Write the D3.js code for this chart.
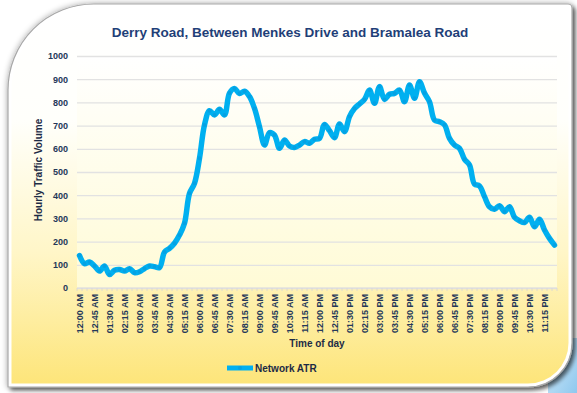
<!DOCTYPE html>
<html>
<head>
<meta charset="utf-8">
<script src="https://cdn.jsdelivr.net/npm/d3@7/dist/d3.min.js"></script>
<style>
  html, body { margin: 0; padding: 0; background: #ffffff; }
  svg { display: block; }
  text { font-family: "Liberation Sans", Arial, sans-serif; font-weight: bold; }
</style>
</head>
<body>
<svg id="chart" width="577" height="393"></svg>
<script>
// 15-minute count intervals
const times = [
  "12:00 AM","12:15 AM","12:30 AM","12:45 AM","01:00 AM","01:15 AM","01:30 AM","01:45 AM",
  "02:00 AM","02:15 AM","02:30 AM","02:45 AM","03:00 AM","03:15 AM","03:30 AM","03:45 AM",
  "04:00 AM","04:15 AM","04:30 AM","04:45 AM","05:00 AM","05:15 AM","05:30 AM","05:45 AM",
  "06:00 AM","06:15 AM","06:30 AM","06:45 AM","07:00 AM","07:15 AM","07:30 AM","07:45 AM",
  "08:00 AM","08:15 AM","08:30 AM","08:45 AM","09:00 AM","09:15 AM","09:30 AM","09:45 AM",
  "10:00 AM","10:15 AM","10:30 AM","10:45 AM","11:00 AM","11:15 AM","11:30 AM","11:45 AM",
  "12:00 PM","12:15 PM","12:30 PM","12:45 PM","01:00 PM","01:15 PM","01:30 PM","01:45 PM",
  "02:00 PM","02:15 PM","02:30 PM","02:45 PM","03:00 PM","03:15 PM","03:30 PM","03:45 PM",
  "04:00 PM","04:15 PM","04:30 PM","04:45 PM","05:00 PM","05:15 PM","05:30 PM","05:45 PM",
  "06:00 PM","06:15 PM","06:30 PM","06:45 PM","07:00 PM","07:15 PM","07:30 PM","07:45 PM",
  "08:00 PM","08:15 PM","08:30 PM","08:45 PM","09:00 PM","09:15 PM","09:30 PM","09:45 PM",
  "10:00 PM","10:15 PM","10:30 PM","10:45 PM","11:00 PM","11:15 PM","11:30 PM","11:45 PM"
];

// Network ATR, hourly traffic volume for each interval
const networkATR = [
  140, 105, 112, 95, 73, 95, 58, 77,
  80, 73, 83, 66, 70, 84, 95, 92,
  88, 155, 171, 193, 228, 279, 408, 451,
  559, 703, 764, 746, 770, 746, 840, 860,
  838, 848, 825, 774, 695, 616, 670, 659,
  602, 638, 612, 606, 616, 631, 624, 641,
  645, 705, 678, 648, 707, 674, 739, 774,
  793, 813, 853, 796, 868, 813, 835, 839,
  853, 803, 875, 818, 889, 840, 803, 724,
  717, 703, 645, 616, 602, 555, 530, 448,
  440, 394, 350, 339, 355, 329, 350, 305,
  290, 282, 305, 264, 296, 250, 214, 185
];

// Every third interval is labelled on the time axis
const timeTicks = times.filter((d, i) => i % 3 === 0);
const volumeTicks = [0, 100, 200, 300, 400, 500, 600, 700, 800, 900, 1000];

const seriesName = "Network ATR";
const titleText = "Derry Road, Between Menkes Drive and Bramalea Road";
const xTitle = "Time of day";
const yTitle = "Hourly Traffic Volume";

const svg = d3.select("#chart");
const plot = { left: 77, right: 557, top: 56, bottom: 288 };

const defs = svg.append("defs");

const cardGrad = defs.append("linearGradient")
  .attr("id", "cardGrad").attr("x1", 0).attr("y1", 0).attr("x2", 0).attr("y2", 1);
cardGrad.append("stop").attr("offset", "0%").attr("stop-color", "#ffffff");
cardGrad.append("stop").attr("offset", "30%").attr("stop-color", "#fffffb");
cardGrad.append("stop").attr("offset", "65%").attr("stop-color", "#fff6c8");
cardGrad.append("stop").attr("offset", "100%").attr("stop-color", "#fde57a");

const plotGrad = defs.append("linearGradient")
  .attr("id", "plotGrad").attr("x1", 0).attr("y1", 0).attr("x2", 0).attr("y2", 1);
plotGrad.append("stop").attr("offset", "0%").attr("stop-color", "#ffffff");
plotGrad.append("stop").attr("offset", "100%").attr("stop-color", "#fffbd6");

const blueGrad = defs.append("linearGradient")
  .attr("id", "blueGrad").attr("x1", 0).attr("y1", 0).attr("x2", 1).attr("y2", 1);
blueGrad.append("stop").attr("offset", "0%").attr("stop-color", "#d6ecfa");
blueGrad.append("stop").attr("offset", "100%").attr("stop-color", "#8fc8ee");

// soft halo all round plus an offset drop shadow
const shadow = defs.append("filter").attr("id", "shadow")
  .attr("x", "-5%").attr("y", "-5%").attr("width", "110%").attr("height", "110%");
shadow.append("feGaussianBlur").attr("in", "SourceAlpha").attr("stdDeviation", 3).attr("result", "halo");
shadow.append("feComponentTransfer").attr("in", "halo").attr("result", "haloSoft")
  .append("feFuncA").attr("type", "linear").attr("slope", 0.35);
shadow.append("feOffset").attr("in", "SourceAlpha").attr("dx", 2.5).attr("dy", 2.5).attr("result", "off");
shadow.append("feGaussianBlur").attr("in", "off").attr("stdDeviation", 2).attr("result", "offBlur");
shadow.append("feComponentTransfer").attr("in", "offBlur").attr("result", "drop")
  .append("feFuncA").attr("type", "linear").attr("slope", 0.55);
const merge = shadow.append("feMerge");
merge.append("feMergeNode").attr("in", "haloSoft");
merge.append("feMergeNode").attr("in", "drop");
merge.append("feMergeNode").attr("in", "SourceGraphic");

// Card outline with a large rounded top-left and bottom-right corner
function cardPath(x0, y0, x1, y1, rTL, rTR, rBR) {
  return `M${x0},${y0 + rTL}` +
    `A${rTL},${rTL} 0 0 1 ${x0 + rTL},${y0}` +
    `L${x1 - rTR},${y0}` +
    `A${rTR},${rTR} 0 0 1 ${x1},${y0 + rTR}` +
    `L${x1},${y1 - rBR}` +
    `A${rBR},${rBR} 0 0 1 ${x1 - rBR},${y1}` +
    `L${x0},${y1}Z`;
}

// light blue backdrop peeking out at the bottom-right corner
svg.append("rect").attr("x", 548).attr("y", 338).attr("width", 29).attr("height", 55)
  .attr("fill", "url(#blueGrad)");

svg.append("path")
  .attr("d", cardPath(8, 4, 572, 387, 86, 4, 44))
  .attr("fill", "#ffffff")
  .attr("stroke", "#a8a8a8")
  .attr("stroke-width", 1.2)
  .attr("filter", "url(#shadow)");

svg.append("path")
  .attr("d", cardPath(11.5, 7.5, 568.5, 383.5, 82.5, 2, 40.5))
  .attr("fill", "url(#cardGrad)");

// plot area
svg.append("rect")
  .attr("x", plot.left).attr("y", plot.top)
  .attr("width", plot.right - plot.left).attr("height", plot.bottom - plot.top)
  .attr("fill", "url(#plotGrad)");

const x = d3.scaleBand().domain(times).range([plot.left, plot.right]).padding(0);
const y = d3.scaleLinear().domain([0, 1000]).range([plot.bottom, plot.top]);
const cx = d => x(d) + x.bandwidth() / 2;

// horizontal gridlines + value labels
const yAxis = svg.append("g")
  .attr("transform", `translate(${plot.left},0)`)
  .call(d3.axisLeft(y).tickValues(volumeTicks).tickFormat(d3.format("d"))
    .tickSize(-(plot.right - plot.left)).tickPadding(9));
yAxis.select(".domain").remove();
yAxis.selectAll(".tick line").attr("stroke", "#e2e2e2").attr("stroke-width", 1.3);
yAxis.selectAll(".tick text")
  .attr("fill", "#243759").attr("font-size", 9)
  .style("font-family", "'Liberation Sans', Arial, sans-serif").style("font-weight", "bold");

// category boundary ticks along the base line
const tickG = svg.append("g");
const boundaries = times.map(d => x(d)).concat([plot.right]);
tickG.selectAll("line.cat").data(boundaries).join("line")
  .attr("x1", d => d).attr("x2", d => d)
  .attr("y1", plot.bottom).attr("y2", plot.bottom + 3)
  .attr("stroke", "#d6d6d6").attr("stroke-width", 0.8);
tickG.append("line")
  .attr("x1", plot.left).attr("x2", plot.right)
  .attr("y1", plot.bottom).attr("y2", plot.bottom)
  .attr("stroke", "#dcdcdc").attr("stroke-width", 1.2);

// rotated time labels
const xAxis = svg.append("g")
  .attr("transform", `translate(0,${plot.bottom})`)
  .call(d3.axisBottom(x).tickValues(timeTicks).tickSize(0).tickPadding(0));
xAxis.select(".domain").remove();
xAxis.selectAll(".tick text")
  .attr("transform", "rotate(-90)")
  .attr("text-anchor", "end")
  .attr("x", -6).attr("y", 0).attr("dy", "0.34em")
  .attr("fill", "#243759").attr("font-size", 9)
  .style("font-family", "'Liberation Sans', Arial, sans-serif").style("font-weight", "bold");

// series line (smoothed) with markers
const line = d3.line()
  .x((d, i) => cx(times[i]))
  .y(d => y(d))
  .curve(d3.curveCatmullRom.alpha(0.5));

svg.append("path")
  .datum(networkATR)
  .attr("d", line)
  .attr("fill", "none")
  .attr("stroke", "#00b0f0")
  .attr("stroke-width", 5.5)
  .attr("stroke-linejoin", "round")
  .attr("stroke-linecap", "round");

svg.append("g").selectAll("circle").data(networkATR).join("circle")
  .attr("cx", (d, i) => cx(times[i]))
  .attr("cy", d => y(d))
  .attr("r", 2)
  .attr("fill", "#0a95d8")
  .attr("opacity", 0.55);

// titles
svg.append("text")
  .attr("x", 290).attr("y", 37)
  .attr("text-anchor", "middle")
  .attr("font-size", 13.5)
  .attr("fill", "#1f3f78")
  .text(titleText);

svg.append("text")
  .attr("transform", "translate(42,170) rotate(-90)")
  .attr("text-anchor", "middle")
  .attr("font-size", 10)
  .attr("fill", "#1d2b45")
  .text(yTitle);

svg.append("text")
  .attr("x", (plot.left + plot.right) / 2).attr("y", 347)
  .attr("text-anchor", "middle")
  .attr("font-size", 10)
  .attr("fill", "#1d2b45")
  .text(xTitle);

// legend
const lg = svg.append("g").attr("transform", "translate(227,368)");
lg.append("line").attr("x1", 0).attr("x2", 26).attr("y1", 0).attr("y2", 0)
  .attr("stroke", "#00b0f0").attr("stroke-width", 5);
lg.append("circle").attr("cx", 13).attr("cy", 0).attr("r", 2)
  .attr("fill", "#0a95d8").attr("opacity", 0.55);
lg.append("text").attr("x", 28).attr("y", 3.6)
  .attr("font-size", 10).attr("fill", "#1d2b45")
  .text(seriesName);
</script>
</body>
</html>
